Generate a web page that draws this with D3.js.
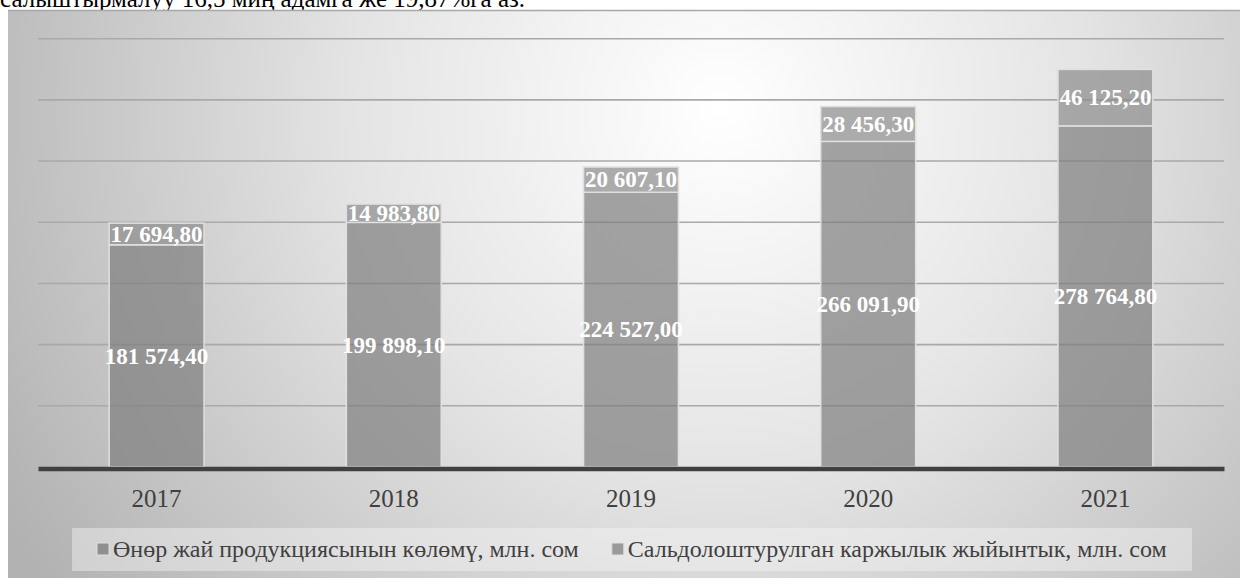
<!DOCTYPE html>
<html><head><meta charset="utf-8">
<script src="https://cdn.jsdelivr.net/npm/d3@7"></script>
<style>html,body{margin:0;padding:0;background:#fff;overflow:hidden}svg{display:block}</style>
</head><body>
<svg id="c" width="1240" height="578"></svg>
<script>
const years = ["2017","2018","2019","2020","2021"];
const industrial = [181574.40, 199898.10, 224527.00, 266091.90, 278764.80];
const financial = [17694.80, 14983.80, 20607.10, 28456.30, 46125.20];
const seriesNames = ["Өнөр жай продукциясынын көлөмү, млн. сом", "Сальдолоштурулган каржылык жыйынтык, млн. сом"];
const yTicks = [0, 50000, 100000, 150000, 200000, 250000, 300000, 350000];
const topLine = "салыштырмалуу 16,5 миң адамга же 19,87%га аз.";

const fmt = v => { const p = v.toFixed(2).split("."); return p[0].replace(/\B(?=(\d{3})+(?!\d))/g, "\u00a0") + "," + p[1]; };

const svg = d3.select("#c");
const serif = "'Liberation Serif','Times New Roman',serif";
const defs = svg.append("defs");
const g = defs.append("radialGradient").attr("id","bg").attr("gradientUnits","userSpaceOnUse")
  .attr("cx",720).attr("cy",110).attr("r",820);
g.append("stop").attr("offset","0").attr("stop-color","#ffffff");
g.append("stop").attr("offset","0.45").attr("stop-color","#e4e4e4");
g.append("stop").attr("offset","1").attr("stop-color","#b2b2b2");

svg.append("text").attr("x",0).attr("y",7).attr("font-family",serif).attr("font-size",25).attr("fill","#000").text(topLine);

svg.append("rect").attr("x",8).attr("y",10).attr("width",1240).attr("height",580).attr("fill","url(#bg)");
svg.append("line").attr("x1",8).attr("x2",1240).attr("y1",10.5).attr("y2",10.5).attr("stroke","#a8a8a8").attr("stroke-width",1.5);

const x = d3.scaleBand().domain(years).range([38,1224]).paddingInner(0.6).paddingOuter(0.3);
const y = d3.scaleLinear().domain([0,350000]).range([467,38.7]);

svg.append("g").selectAll("line").data(yTicks.slice(1)).join("line")
  .attr("x1",38).attr("x2",1224).attr("y1",d=>y(d)).attr("y2",d=>y(d))
  .attr("stroke","#a9a9a9").attr("stroke-width",1.6);

const rows = years.map((yr,i)=>({yr, a:industrial[i], b:financial[i]}));
const bars = svg.append("g");
bars.selectAll("rect.a").data(rows).join("rect").attr("class","a")
  .attr("x",d=>x(d.yr)).attr("width",x.bandwidth())
  .attr("y",d=>y(d.a)).attr("height",d=>y(0)-y(d.a))
  .attr("fill","#7e7e7e").attr("fill-opacity",0.7).attr("stroke","#e0e0e0").attr("stroke-width",1.5);
bars.selectAll("rect.b").data(rows).join("rect").attr("class","b")
  .attr("x",d=>x(d.yr)).attr("width",x.bandwidth())
  .attr("y",d=>y(d.a+d.b)).attr("height",d=>y(d.a)-y(d.a+d.b))
  .attr("fill","#8c8c8c").attr("fill-opacity",0.7).attr("stroke","#e0e0e0").attr("stroke-width",1.5);

const lab = svg.append("g").attr("font-family",serif).attr("font-size",23).attr("font-weight","bold")
  .attr("fill","#fff").attr("text-anchor","middle");
lab.selectAll("text.a").data(rows).join("text").attr("class","a")
  .attr("x",d=>x(d.yr)+x.bandwidth()/2).attr("y",d=>(y(0)+y(d.a))/2).attr("dy","0.34em").text(d=>fmt(d.a));
lab.selectAll("text.b").data(rows).join("text").attr("class","b")
  .attr("x",d=>x(d.yr)+x.bandwidth()/2).attr("y",d=>(y(d.a)+y(d.a+d.b))/2).attr("dy","0.34em").text(d=>fmt(d.b));

const ax = svg.append("g").attr("transform",`translate(0,${y(0)+1.5})`).call(d3.axisBottom(x).tickSize(0).tickPadding(21));
ax.select(".domain").attr("stroke","#404040").attr("stroke-width",4.5);
ax.selectAll("text").attr("font-family",serif).attr("font-size",25).attr("fill","#404040");

// legend
svg.append("rect").attr("x",72).attr("y",528).attr("width",1120).attr("height",43).attr("fill","#f4f4f4").attr("fill-opacity",0.45);
const lg = svg.append("g");
const sw = ["#8f8f8f","#9a9a9a"];
let lx = 97;
seriesNames.forEach((n,i)=>{
  lg.append("rect").attr("x",lx).attr("y",543).attr("width",12).attr("height",12).attr("fill",sw[i]).attr("stroke","#e0e0e0").attr("stroke-width",1);
  const t = lg.append("text").attr("x",lx+16).attr("y",557).attr("font-family",serif).attr("font-size",24).attr("fill","#404040").text(n);
  lx += 16 + t.node().getComputedTextLength() + 33;
});
</script>
</body></html>
